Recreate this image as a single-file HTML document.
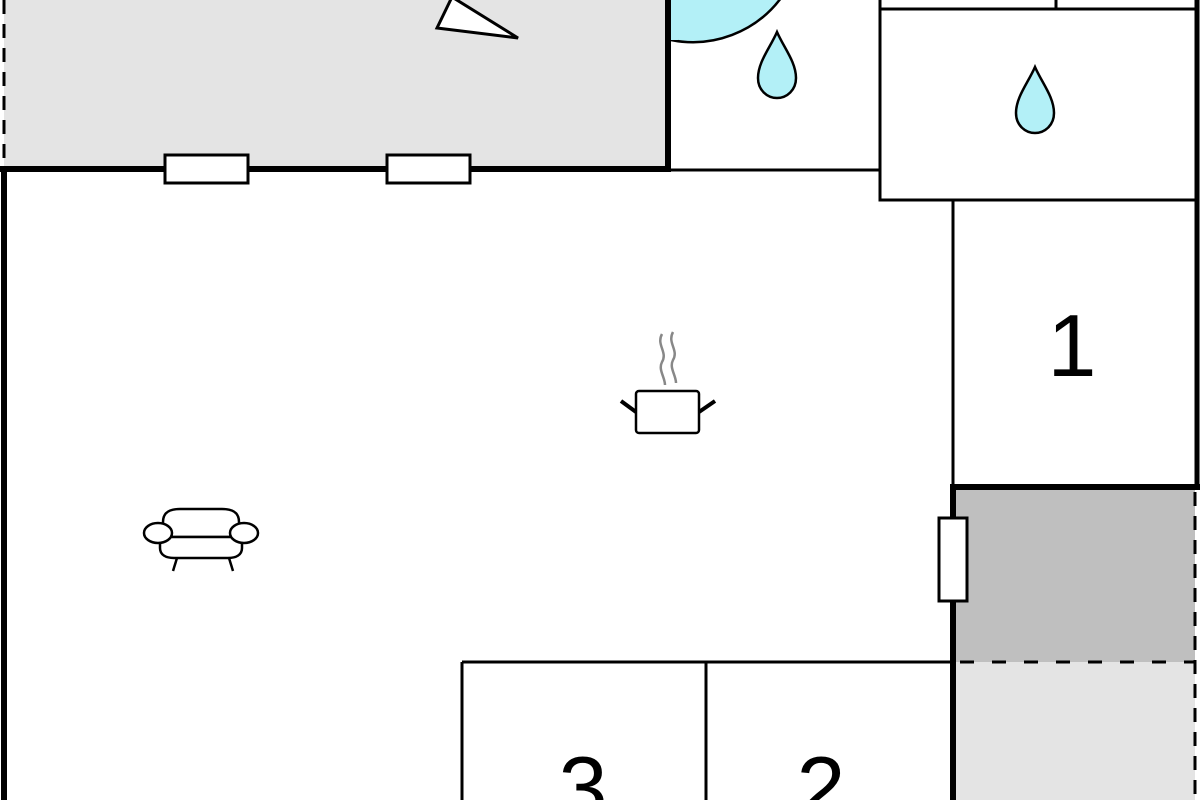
<!DOCTYPE html>
<html><head><meta charset="utf-8"><style>html,body{margin:0;padding:0;background:#fff;width:1200px;height:800px;overflow:hidden}</style></head>
<body>
<svg width="1200" height="800" viewBox="0 0 1200 800" xmlns="http://www.w3.org/2000/svg" font-family="Liberation Sans, sans-serif">
<rect x="4" y="0" width="664" height="169" fill="#e4e4e4"/>
<rect x="956" y="490" width="239" height="172" fill="#bfbfbf"/>
<rect x="956" y="662" width="239" height="138" fill="#e4e4e4"/>
<!-- blue quarter circle -->
<path d="M671,40 A110,110 0 0 0 781,-2 L671,-2 Z" fill="#b3f0f7" stroke="#000" stroke-width="2.5"/>
<rect x="668" y="-5" width="10" height="45" fill="#b3f0f7"/>
<!-- dashed lines -->
<line x1="4" y1="0" x2="4" y2="165" stroke="#000" stroke-width="3" stroke-dasharray="14,10"/>
<line x1="960" y1="662" x2="1195" y2="662" stroke="#000" stroke-width="3" stroke-dasharray="14,18"/>
<line x1="1195" y1="492" x2="1195" y2="800" stroke="#000" stroke-width="3" stroke-dasharray="14,10"/>
<!-- walls -->
<line x1="0" y1="169" x2="671" y2="169" stroke="#000" stroke-width="6"/>
<line x1="668" y1="0" x2="668" y2="172" stroke="#000" stroke-width="6"/>
<line x1="4" y1="166" x2="4" y2="800" stroke="#000" stroke-width="6"/>
<line x1="668" y1="170" x2="880" y2="170" stroke="#000" stroke-width="3"/>
<rect x="880" y="9" width="317" height="191" fill="#fff" stroke="#000" stroke-width="3"/>
<line x1="880" y1="9" x2="1197" y2="9" stroke="#000" stroke-width="3"/>
<line x1="1056" y1="0" x2="1056" y2="9" stroke="#000" stroke-width="3"/>
<line x1="880" y1="0" x2="880" y2="9" stroke="#000" stroke-width="3"/>
<line x1="1197" y1="0" x2="1197" y2="490" stroke="#000" stroke-width="5"/>
<line x1="953" y1="200" x2="953" y2="487" stroke="#000" stroke-width="3"/>
<line x1="950" y1="487" x2="1200" y2="487" stroke="#000" stroke-width="6"/>
<line x1="953" y1="484" x2="953" y2="800" stroke="#000" stroke-width="6"/>
<line x1="462" y1="662" x2="953" y2="662" stroke="#000" stroke-width="3"/>
<line x1="462" y1="662" x2="462" y2="800" stroke="#000" stroke-width="3"/>
<line x1="706" y1="662" x2="706" y2="800" stroke="#000" stroke-width="3"/>
<!-- windows -->
<rect x="165" y="155" width="83" height="28" fill="#fff" stroke="#000" stroke-width="3"/>
<rect x="387" y="155" width="83" height="28" fill="#fff" stroke="#000" stroke-width="3"/>
<rect x="939" y="518" width="28" height="83" fill="#fff" stroke="#000" stroke-width="3"/>
<!-- triangle -->
<polygon points="437,28 518,38 452,-3" fill="#fff" stroke="#000" stroke-width="3"/>
<!-- drops -->
<path d="M777,32 C770,48 758,62 758,78 C758,90 767,98 777,98 C787,98 796,90 796,78 C796,62 784,48 777,32 Z" fill="#b3f0f7" stroke="#000" stroke-width="2.5"/>
<path d="M1035,67 C1028,83 1016,97 1016,113 C1016,125 1025,133 1035,133 C1045,133 1054,125 1054,113 C1054,97 1042,83 1035,67 Z" fill="#b3f0f7" stroke="#000" stroke-width="2.5"/>
<!-- pot -->
<path d="M662,334 C656,345 668,352 662,362 C658,370 665,377 665,385 M673,332 C667,343 679,350 673,360 C669,368 676,375 676,383" fill="none" stroke="#888" stroke-width="2.5"/>
<rect x="636" y="391" width="63" height="42" rx="3" fill="#fff" stroke="#000" stroke-width="2.5"/>
<line x1="621" y1="401" x2="636" y2="412" stroke="#000" stroke-width="4"/>
<line x1="715" y1="401" x2="699" y2="412" stroke="#000" stroke-width="4"/>
<!-- sofa -->
<g fill="#fff" stroke="#000" stroke-width="2.5">
<path d="M163,537 L163,522 C163,512 170,509 180,509 L222,509 C232,509 239,512 239,522 L239,537 Z"/>
<path d="M160,537 L242,537 L242,548 C242,555 236,558 228,558 L174,558 C166,558 160,555 160,548 Z"/>
<ellipse cx="158" cy="533" rx="14" ry="10"/>
<ellipse cx="244" cy="533" rx="14" ry="10"/>
<line x1="177" y1="558" x2="173" y2="571"/>
<line x1="229" y1="558" x2="233" y2="571"/>
</g>
<!-- labels -->
<text x="1072" y="376" font-size="88" text-anchor="middle">1</text>
<text x="583" y="818" font-size="88" text-anchor="middle">3</text>
<text x="821" y="818" font-size="88" text-anchor="middle">2</text>
</svg>
</body></html>
